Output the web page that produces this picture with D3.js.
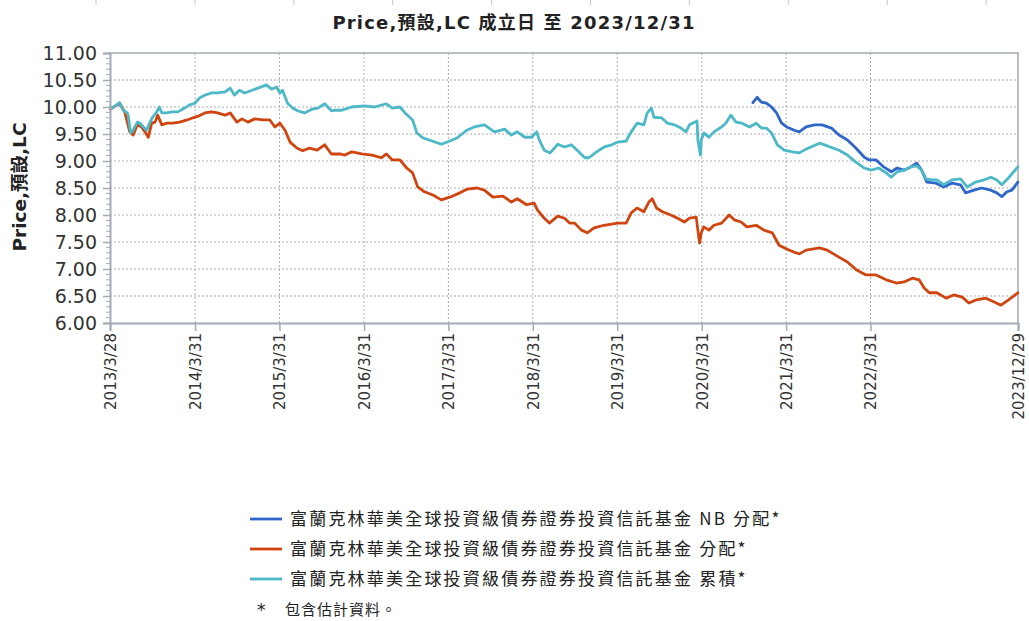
<!DOCTYPE html>
<html>
<head>
<meta charset="utf-8">
<script src="https://cdn.jsdelivr.net/npm/d3@7"></script>
<style>
  html, body { margin: 0; padding: 0; background: #fff; }
  svg { display: block; }
</style>
</head>
<body>
<svg id="chart" width="1029" height="621"></svg>
<script>
// ---- data (decimal year, price) ----
const seriesNames = [
  "富蘭克林華美全球投資級債券證券投資信託基金 NB 分配*",
  "富蘭克林華美全球投資級債券證券投資信託基金 分配*",
  "富蘭克林華美全球投資級債券證券投資信託基金 累積*"
];
const seriesColors = ["#2f66cc", "#d0450f", "#4db8c8"];

const nbDist = [
  [2020.85,10.08],[2020.90,10.18],[2020.95,10.09],[2021.01,10.07],[2021.07,10.00],[2021.13,9.89],
  [2021.19,9.70],[2021.25,9.63],[2021.34,9.57],[2021.40,9.54],[2021.48,9.63],[2021.58,9.67],
  [2021.67,9.67],[2021.78,9.61],[2021.87,9.48],[2021.97,9.39],[2022.07,9.24],[2022.17,9.07],
  [2022.23,9.02],[2022.31,9.02],[2022.40,8.89],[2022.49,8.80],[2022.56,8.87],[2022.64,8.83],
  [2022.72,8.89],[2022.79,8.96],[2022.85,8.83],[2022.91,8.61],[2023.02,8.59],[2023.11,8.52],
  [2023.21,8.59],[2023.31,8.56],[2023.37,8.41],[2023.47,8.46],[2023.56,8.50],[2023.67,8.46],
  [2023.74,8.41],[2023.80,8.34],[2023.86,8.43],[2023.92,8.46],[2023.99,8.61]
];

const dist = [
  [2013.24,9.96],[2013.35,10.07],[2013.41,9.91],[2013.47,9.54],[2013.51,9.48],[2013.56,9.67],
  [2013.61,9.63],[2013.65,9.54],[2013.69,9.44],[2013.73,9.70],[2013.77,9.72],[2013.80,9.85],
  [2013.85,9.67],[2013.91,9.70],[2013.98,9.70],[2014.06,9.72],[2014.15,9.76],[2014.22,9.80],
  [2014.28,9.83],[2014.36,9.89],[2014.44,9.91],[2014.51,9.89],[2014.60,9.85],[2014.66,9.89],
  [2014.74,9.72],[2014.80,9.78],[2014.87,9.72],[2014.95,9.78],[2015.05,9.76],[2015.13,9.76],
  [2015.19,9.63],[2015.25,9.70],[2015.31,9.57],[2015.37,9.35],[2015.45,9.24],[2015.52,9.19],
  [2015.60,9.24],[2015.69,9.20],[2015.78,9.30],[2015.86,9.13],[2015.96,9.13],[2016.02,9.11],
  [2016.10,9.17],[2016.22,9.13],[2016.34,9.11],[2016.45,9.06],[2016.51,9.13],[2016.58,9.02],
  [2016.67,9.02],[2016.75,8.87],[2016.82,8.78],[2016.88,8.52],[2016.96,8.43],[2017.06,8.37],
  [2017.16,8.28],[2017.26,8.33],[2017.38,8.41],[2017.47,8.48],[2017.58,8.50],[2017.67,8.46],
  [2017.77,8.33],[2017.89,8.35],[2017.99,8.24],[2018.06,8.30],[2018.17,8.19],[2018.26,8.22],
  [2018.30,8.09],[2018.38,7.94],[2018.44,7.85],[2018.54,7.98],[2018.62,7.94],[2018.68,7.85],
  [2018.74,7.85],[2018.82,7.72],[2018.89,7.67],[2018.97,7.76],[2019.09,7.81],[2019.25,7.85],
  [2019.35,7.85],[2019.41,8.04],[2019.48,8.13],[2019.56,8.06],[2019.62,8.24],[2019.66,8.30],
  [2019.71,8.13],[2019.78,8.06],[2019.88,8.00],[2019.96,7.94],[2020.04,7.87],[2020.10,7.94],
  [2020.18,7.96],[2020.20,7.72],[2020.22,7.48],[2020.24,7.67],[2020.27,7.78],[2020.33,7.72],
  [2020.39,7.81],[2020.48,7.85],[2020.57,8.00],[2020.63,7.91],[2020.71,7.87],[2020.78,7.78],
  [2020.89,7.81],[2020.98,7.72],[2021.08,7.67],[2021.16,7.44],[2021.25,7.37],[2021.34,7.31],
  [2021.40,7.28],[2021.48,7.35],[2021.64,7.39],[2021.73,7.35],[2021.87,7.22],[2021.97,7.13],
  [2022.08,6.98],[2022.19,6.89],[2022.31,6.89],[2022.43,6.80],[2022.55,6.74],[2022.64,6.76],
  [2022.74,6.83],[2022.82,6.80],[2022.88,6.65],[2022.94,6.56],[2023.03,6.56],[2023.14,6.46],
  [2023.23,6.52],[2023.33,6.48],[2023.41,6.37],[2023.50,6.43],[2023.61,6.46],[2023.71,6.39],
  [2023.79,6.33],[2023.88,6.43],[2023.99,6.56]
];

const accum = [
  [2013.24,10.00],[2013.26,9.98],[2013.35,10.08],[2013.39,9.94],[2013.44,9.89],[2013.45,9.85],
  [2013.48,9.52],[2013.51,9.57],[2013.56,9.72],[2013.59,9.70],[2013.63,9.63],[2013.67,9.57],
  [2013.71,9.72],[2013.74,9.81],[2013.79,9.91],[2013.82,10.00],[2013.85,9.89],[2013.91,9.89],
  [2013.97,9.91],[2014.04,9.91],[2014.12,9.98],[2014.18,10.04],[2014.24,10.07],[2014.30,10.17],
  [2014.36,10.22],[2014.44,10.26],[2014.51,10.26],[2014.60,10.28],[2014.66,10.35],[2014.71,10.22],
  [2014.77,10.31],[2014.83,10.26],[2014.92,10.31],[2014.99,10.35],[2015.09,10.41],[2015.15,10.33],
  [2015.21,10.37],[2015.25,10.26],[2015.28,10.31],[2015.34,10.07],[2015.40,9.98],[2015.46,9.93],
  [2015.54,9.89],[2015.63,9.96],[2015.70,9.98],[2015.78,10.06],[2015.86,9.93],[2015.90,9.94],
  [2015.98,9.94],[2016.10,10.00],[2016.25,10.02],[2016.37,10.00],[2016.51,10.06],[2016.58,9.98],
  [2016.67,10.00],[2016.73,9.89],[2016.82,9.76],[2016.87,9.52],[2016.94,9.43],[2017.05,9.37],
  [2017.16,9.31],[2017.26,9.37],[2017.35,9.43],[2017.46,9.57],[2017.55,9.63],[2017.67,9.67],
  [2017.79,9.54],[2017.91,9.59],[2017.99,9.48],[2018.06,9.54],[2018.15,9.44],[2018.23,9.44],
  [2018.29,9.54],[2018.32,9.39],[2018.38,9.20],[2018.45,9.15],[2018.54,9.31],[2018.62,9.26],
  [2018.70,9.30],[2018.77,9.20],[2018.86,9.06],[2018.91,9.06],[2019.00,9.17],[2019.09,9.26],
  [2019.18,9.30],[2019.25,9.35],[2019.35,9.37],[2019.41,9.54],[2019.48,9.70],[2019.56,9.67],
  [2019.60,9.89],[2019.65,9.98],[2019.68,9.81],[2019.77,9.80],[2019.84,9.70],[2019.92,9.67],
  [2020.00,9.61],[2020.06,9.54],[2020.10,9.67],[2020.19,9.74],[2020.20,9.39],[2020.23,9.11],
  [2020.24,9.39],[2020.27,9.52],[2020.33,9.44],[2020.39,9.54],[2020.48,9.63],[2020.53,9.70],
  [2020.59,9.85],[2020.65,9.72],[2020.72,9.70],[2020.81,9.63],[2020.89,9.70],[2020.95,9.61],
  [2021.01,9.61],[2021.07,9.52],[2021.14,9.30],[2021.22,9.20],[2021.32,9.17],[2021.40,9.15],
  [2021.48,9.22],[2021.64,9.33],[2021.73,9.28],[2021.87,9.20],[2021.97,9.11],[2022.07,8.98],
  [2022.17,8.87],[2022.25,8.83],[2022.34,8.87],[2022.43,8.78],[2022.49,8.70],[2022.56,8.80],
  [2022.64,8.83],[2022.72,8.89],[2022.79,8.91],[2022.85,8.83],[2022.90,8.67],[2022.97,8.65],
  [2023.03,8.65],[2023.11,8.56],[2023.21,8.65],[2023.31,8.67],[2023.39,8.52],[2023.49,8.61],
  [2023.59,8.65],[2023.67,8.70],[2023.74,8.65],[2023.80,8.56],[2023.88,8.69],[2023.99,8.89]
];

const xTickLabels = ["2013/3/28","2014/3/31","2015/3/31","2016/3/31","2017/3/31","2018/3/31",
                     "2019/3/31","2020/3/31","2021/3/31","2022/3/31","2023/12/29"];
const yTickValues = [6.00,6.50,7.00,7.50,8.00,8.50,9.00,9.50,10.00,10.50,11.00];
const titleText = "Price,預設,LC 成立日 至 2023/12/31";
const yTitleText = "Price,預設,LC";
const footnoteText = "包含估計資料。";

// ---- helpers ----
function yearToDate(v) {
  const yr = Math.floor(v);
  const s = Date.UTC(yr, 0, 1), e = Date.UTC(yr + 1, 0, 1);
  return new Date(s + (v - yr) * (e - s));
}
function parseLabel(s) {
  const [y, m, d] = s.split("/").map(Number);
  return new Date(Date.UTC(y, m - 1, d));
}

const svg = d3.select("#chart");
const m = { left: 110, top: 53, right: 1018, bottom: 323 };

const xTicks = xTickLabels.map(parseLabel);
const x = d3.scaleUtc().domain([xTicks[0], xTicks[xTicks.length - 1]]).range([m.left, m.right]);
const y = d3.scaleLinear().domain([6, 11]).range([m.bottom, m.top]);

const axisColor = "#a3abb5";
const gridColor = "#a9adb3";
const textColor = "#333";

// faint frame ticks at the very top edge (cropped remnant in the reference)
svg.append("g").selectAll("line").data(d3.range(0, 10)).join("line")
  .attr("x1", i => 96 + i * 98.9).attr("x2", i => 96 + i * 98.9)
  .attr("y1", 0).attr("y2", 5).attr("stroke", "#c8c8c8").attr("stroke-width", 1);

// title
svg.append("text").attr("x", 514).attr("y", 29).attr("text-anchor", "middle")
  .attr("font-family", "'DejaVu Sans', 'Noto Sans CJK TC', sans-serif")
  .attr("font-weight", "bold").attr("font-size", 18).attr("letter-spacing", 1.2)
  .attr("fill", "#222").text(titleText);

// grid
const grid = svg.append("g");
grid.selectAll("line.h").data(yTickValues.filter(v => v > 6 && v < 11)).join("line")
  .attr("x1", m.left).attr("x2", m.right).attr("y1", d => y(d)).attr("y2", d => y(d))
  .attr("stroke", gridColor).attr("stroke-width", 1).attr("stroke-dasharray", "2,2");
grid.selectAll("line.v").data(xTicks.slice(1, -1)).join("line")
  .attr("x1", d => x(d)).attr("x2", d => x(d)).attr("y1", m.top).attr("y2", m.bottom)
  .attr("stroke", gridColor).attr("stroke-width", 1).attr("stroke-dasharray", "2,2");

// border top/right
svg.append("path")
  .attr("d", `M${m.left},${m.top}H${m.right}V${m.bottom}`)
  .attr("fill", "none").attr("stroke", axisColor).attr("stroke-width", 1.5);

// lines
const line = d3.line().x(d => x(yearToDate(d[0]))).y(d => y(d[1])).curve(d3.curveLinear);
const seriesData = [nbDist, dist, accum];
const order = [0, 1, 2];
svg.append("g").selectAll("path").data(order).join("path")
  .attr("d", i => line(seriesData[i]))
  .attr("fill", "none").attr("stroke", i => seriesColors[i])
  .attr("stroke-width", 2.8).attr("stroke-linejoin", "round").attr("stroke-linecap", "round");

// y axis
const yAxis = svg.append("g").attr("transform", `translate(${m.left},0)`)
  .call(d3.axisLeft(y).tickValues(yTickValues).tickFormat(d3.format(".2f")).tickSize(7).tickPadding(6));
yAxis.select(".domain").attr("stroke", axisColor).attr("stroke-width", 2);
yAxis.selectAll(".tick line").attr("stroke", axisColor).attr("stroke-width", 1.5);
yAxis.selectAll(".tick text").attr("font-family", "'DejaVu Sans', sans-serif")
  .attr("font-size", 19).attr("fill", textColor);
// minor ticks
const minor = d3.range(60, 111).filter(v => v % 5 !== 0).map(v => v / 10);
yAxis.selectAll("line.minor").data(minor).join("line").attr("class", "minor")
  .attr("x1", -4).attr("x2", 0).attr("y1", d => y(d)).attr("y2", d => y(d))
  .attr("stroke", axisColor).attr("stroke-width", 1);

// x axis
const xAxis = svg.append("g").attr("transform", `translate(0,${m.bottom})`)
  .call(d3.axisBottom(x).tickValues(xTicks).tickFormat((d, i) => xTickLabels[i]).tickSize(8).tickPadding(0));
xAxis.select(".domain").attr("stroke", axisColor).attr("stroke-width", 2);
xAxis.selectAll(".tick line").attr("stroke", axisColor).attr("stroke-width", 1.5);
xAxis.selectAll(".tick text")
  .attr("font-family", "'DejaVu Sans', sans-serif").attr("font-size", 15).attr("fill", textColor)
  .attr("text-anchor", "end").attr("dy", "0.35em")
  .attr("transform", "translate(0,10) rotate(-90)").attr("x", 0).attr("y", 0);

// y title
svg.append("text").attr("transform", `translate(26,187) rotate(-90)`)
  .attr("text-anchor", "middle")
  .attr("font-family", "'DejaVu Sans', 'Noto Sans CJK TC', sans-serif")
  .attr("font-weight", "bold").attr("font-size", 18.5).attr("fill", "#222").text(yTitleText);

// legend
const leg = svg.append("g");
const rows = leg.selectAll("g").data(order).join("g")
  .attr("transform", i => `translate(250,${519 + i * 30})`);
rows.append("line").attr("x1", 0).attr("x2", 32).attr("y1", 0).attr("y2", 0)
  .attr("stroke", i => seriesColors[i]).attr("stroke-width", 2.8);
rows.append("text").attr("x", 40).attr("y", 0).attr("dy", "0.35em")
  .attr("font-family", "'Noto Sans CJK TC', 'DejaVu Sans', sans-serif")
  .attr("font-size", 17).attr("letter-spacing", 2.2).attr("fill", "#222").text(i => seriesNames[i]);

const foot = svg.append("g").attr("transform", "translate(257,610)");
foot.append("text").attr("x", 0).attr("y", 0).attr("dy", "0.35em")
  .attr("font-family", "'DejaVu Sans', sans-serif").attr("font-size", 17).attr("fill", "#222").text("*");
foot.append("text").attr("x", 28).attr("y", 0).attr("dy", "0.35em")
  .attr("font-family", "'Noto Sans CJK TC', sans-serif").attr("font-size", 15).attr("letter-spacing", 1)
  .attr("fill", "#222").text(footnoteText);
</script>
</body>
</html>
